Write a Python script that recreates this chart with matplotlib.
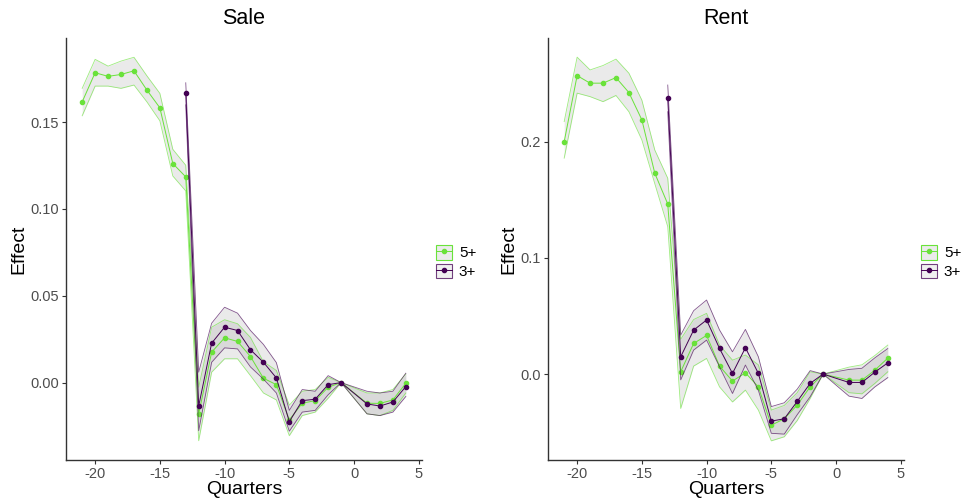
import numpy as np
import matplotlib
matplotlib.use("Agg")
import matplotlib.pyplot as plt
from matplotlib.patches import Patch
from matplotlib.lines import Line2D

plt.rcParams['font.family'] = ['Liberation Sans', 'DejaVu Sans']

GREEN = '#6ae23a'
PURPLE = '#440154'

# quarters relative to event (0 is left out, -1 is the reference period)
q_5 = [-21, -20, -19, -18, -17, -16, -15, -14, -13, -12, -11, -10, -9, -8, -7, -6, -5, -4, -3, -2, -1, 1, 2, 3, 4]
q_3 = [-13, -12, -11, -10, -9, -8, -7, -6, -5, -4, -3, -2, -1, 1, 2, 3, 4]

# Sale
sale_5 = [0.1617, 0.1785, 0.1764, 0.1775, 0.1796, 0.1685, 0.1583, 0.1262, 0.1185, -0.0181, 0.0175, 0.0258, 0.0237,
          0.0150, 0.0025, -0.0012, -0.0215, -0.0119, -0.0104, -0.0027, 0.0, -0.0119, -0.0120, -0.0100, -0.0004]
sale_5_lo = [0.1537, 0.1708, 0.1708, 0.1695, 0.1714, 0.1617, 0.1508, 0.1190, 0.1104, -0.0335, 0.0060, 0.0137, 0.0137,
             0.0040, -0.0060, -0.0100, -0.0306, -0.0190, -0.0170, -0.0090, 0.0, -0.0180, -0.0190, -0.0160, -0.0060]
sale_5_hi = [0.1695, 0.1862, 0.1823, 0.1852, 0.1874, 0.1767, 0.1666, 0.1344, 0.1252, -0.0027, 0.0319, 0.0362, 0.0339,
             0.0260, 0.0120, 0.0070, -0.0130, -0.0050, -0.0040, 0.0030, 0.0, -0.0060, -0.0060, -0.0040, 0.0050]
sale_3 = [0.1666, -0.0135, 0.0227, 0.0319, 0.0300, 0.0189, 0.0117, 0.0027, -0.0225, -0.0104, -0.0096, -0.0012, 0.0,
          -0.0123, -0.0135, -0.0112, -0.0023]
sale_3_lo = [0.1600, -0.0277, 0.0117, 0.0200, 0.0194, 0.0090, 0.0020, -0.0060, -0.0280, -0.0170, -0.0160, -0.0070, 0.0,
             -0.0180, -0.0190, -0.0170, -0.0080]
sale_3_hi = [0.1727, 0.0060, 0.0342, 0.0434, 0.0400, 0.0300, 0.0220, 0.0115, -0.0160, -0.0040, -0.0050, 0.0040, 0.0,
             -0.0050, -0.0060, -0.0050, 0.0054]

# Rent
rent_5 = [0.2002, 0.2571, 0.2506, 0.2506, 0.2554, 0.2425, 0.2190, 0.1730, 0.1465, 0.0020, 0.0264, 0.0333, 0.0069,
          -0.0060, 0.0011, -0.0110, -0.0440, -0.0385, -0.0267, -0.0110, 0.0, -0.0052, -0.0052, 0.0034, 0.0138]
rent_5_lo = [0.1860, 0.2420, 0.2390, 0.2347, 0.2400, 0.2260, 0.2017, 0.1640, 0.1270, -0.0296, 0.0069, 0.0135, -0.0110,
             -0.0240, -0.0138, -0.0310, -0.0575, -0.0540, -0.0400, -0.0210, 0.0, -0.0160, -0.0170, -0.0080, 0.0020]
rent_5_hi = [0.2175, 0.2730, 0.2620, 0.2658, 0.2713, 0.2592, 0.2360, 0.1930, 0.1687, 0.0300, 0.0470, 0.0523, 0.0250,
             0.0120, 0.0164, 0.0080, -0.0310, -0.0270, -0.0160, 0.0020, 0.0, 0.0060, 0.0080, 0.0160, 0.0250]
rent_3 = [0.2376, 0.0149, 0.0379, 0.0466, 0.0221, 0.0006, 0.0227, 0.0006, -0.0405, -0.0385, -0.0236, -0.0080, 0.0,
          -0.0072, -0.0072, 0.0017, 0.0097]
rent_3_lo = [0.2260, -0.0050, 0.0207, 0.0293, 0.0063, -0.0167, 0.0078, -0.0140, -0.0510, -0.0517, -0.0350, -0.0195, 0.0,
             -0.0190, -0.0210, -0.0110, -0.0030]
rent_3_hi = [0.2490, 0.0336, 0.0546, 0.0638, 0.0380, 0.0192, 0.0385, 0.0149, -0.0280, -0.0247, -0.0130, 0.0030, 0.0,
             0.0040, 0.0050, 0.0140, 0.0220]


def draw_series(ax, x, y, lo, hi, color):
    ax.fill_between(x, lo, hi, color='#999999', alpha=0.2, linewidth=0)
    ax.plot(x, lo, color=color, linewidth=0.6, alpha=0.65)
    ax.plot(x, hi, color=color, linewidth=0.6, alpha=0.65)
    ax.plot(x, y, color=color, linewidth=0.7, marker='o', markersize=3)


def style_axes(ax, title, ylim, yticks, ylabels):
    ax.set_xlim(-22.25, 5.25)
    ax.set_ylim(*ylim)
    ax.set_xticks([-20, -15, -10, -5, 0, 5])
    ax.set_xticklabels(['-20', '-15', '-10', '-5', '0', '5'])
    ax.set_yticks(yticks)
    ax.set_yticklabels(ylabels)
    for side in ['top', 'right']:
        ax.spines[side].set_visible(False)
    for side in ['left', 'bottom']:
        ax.spines[side].set_color('#333333')
        ax.spines[side].set_linewidth(1.0)
    ax.tick_params(colors='#333333', labelcolor='#4d4d4d', labelsize=10.5, length=3, width=0.8, pad=2)
    ax.set_title(title, fontsize=15.5, pad=10)
    ax.set_xlabel('Quarters', fontsize=14, labelpad=0)
    ax.set_ylabel('Effect', fontsize=14, labelpad=2)


def add_legend(fig, x, y):
    h5 = (Patch(facecolor='#ebebeb', edgecolor=GREEN, linewidth=0.8),
          Line2D([], [], color=GREEN, linewidth=0.7, marker='o', markersize=3))
    h3 = (Patch(facecolor='#ebebeb', edgecolor=PURPLE, linewidth=0.8, alpha=0.75),
          Line2D([], [], color=PURPLE, linewidth=0.7, marker='o', markersize=3))
    fig.legend([h5, h3], ['5+', '3+'], loc='center left', bbox_to_anchor=(x, y), frameon=False,
               fontsize=11, handlelength=1.05, handleheight=1.1, handletextpad=0.45, labelspacing=0.2,
               borderpad=0, borderaxespad=0)


fig = plt.figure(figsize=(9.66, 5.01), dpi=100)
ax1 = fig.add_axes([66 / 966, 41 / 501, 356 / 966, 422 / 501])
ax2 = fig.add_axes([548 / 966, 41 / 501, 356 / 966, 422 / 501])

draw_series(ax1, q_5, sale_5, sale_5_lo, sale_5_hi, GREEN)
draw_series(ax1, q_3, sale_3, sale_3_lo, sale_3_hi, PURPLE)
style_axes(ax1, 'Sale', (-0.0446, 0.1985), [0.0, 0.05, 0.10, 0.15], ['0.00', '0.05', '0.10', '0.15'])

draw_series(ax2, q_5, rent_5, rent_5_lo, rent_5_hi, GREEN)
draw_series(ax2, q_3, rent_3, rent_3_lo, rent_3_hi, PURPLE)
style_axes(ax2, 'Rent', (-0.074, 0.2895), [0.0, 0.1, 0.2], ['0.0', '0.1', '0.2'])

add_legend(fig, 436 / 966, 1 - 262 / 501)
add_legend(fig, 921 / 966, 1 - 262 / 501)

fig.savefig('out.png', dpi=100)
